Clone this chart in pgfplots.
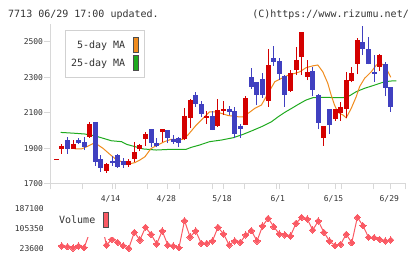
\documentclass[border=0pt]{standalone}
\usepackage{pgfplots}
\pgfplotsset{compat=1.18}
\usepackage{pgfplotstable}
\usepackage{fontspec}
\setmainfont{DejaVu Sans Mono}
\setmonofont{DejaVu Sans Mono}

\definecolor{upRed}{RGB}{212,0,0}
\definecolor{downBlue}{RGB}{64,64,192}
\definecolor{maOrange}{RGB}{240,140,30}
\definecolor{maGreen}{RGB}{30,170,30}
\definecolor{volRed}{RGB}{250,90,100}
\definecolor{axisGray}{RGB}{216,216,216}
\definecolor{txt}{RGB}{51,51,51}

% daily candles: index, open, high, low, close
\pgfplotstableread{
i o h l c
0 1836 1842 1836 1842
1 1897 1923 1869 1913
3 1897 1947 1897 1925
6 1966 2048 1960 2037
9 1775 1820 1763 1812
13 1807 1842 1795 1829
14 1840 1936 1822 1880
15 1897 1925 1885 1919
16 1953 1994 1915 1981
19 1994 2009 1934 2009
23 1951 2125 1945 2082
24 2069 2178 2013 2172
27 2075 2110 2037 2082
29 2028 2178 2022 2116
30 2116 2166 2088 2121
34 2031 2194 2031 2181
38 2168 2458 2134 2369
42 2224 2340 2219 2325
43 2340 2471 2312 2397
44 2416 2556 2312 2556
45 2303 2397 2284 2331
48 1960 2026 1915 2026
50 2065 2123 2056 2121
51 2097 2159 2056 2134
52 2120 2331 2072 2284
53 2280 2356 2271 2322
54 2373 2518 2318 2509
58 2359 2430 2335 2425
}\upcandles

\pgfplotstableread{
i o h l c
2 1947 1962 1869 1897
4 1945 1960 1925 1932
5 1936 1964 1891 1906
7 2048 2048 1803 1825
8 1840 1862 1769 1788
10 1831 1859 1803 1816
11 1863 1867 1792 1797
12 1829 1848 1792 1807
17 2009 2009 1906 1929
18 1932 1957 1906 1915
20 2003 2003 1932 1960
21 1951 1975 1925 1938
22 1957 1962 1906 1929
25 2200 2219 2134 2148
26 2149 2168 2078 2092
28 2084 2110 2003 2003
31 2121 2140 2088 2104
32 2110 2131 1957 1981
33 2026 2037 1960 2009
35 2300 2354 2234 2243
36 2271 2275 2144 2200
37 2290 2322 2185 2200
39 2410 2475 2364 2387
40 2391 2410 2284 2318
41 2307 2312 2134 2200
46 2335 2359 2194 2228
47 2200 2205 2007 2044
49 2121 2121 1981 2031
55 2496 2590 2425 2457
56 2458 2524 2373 2373
57 2331 2425 2275 2316
59 2374 2383 2194 2241
60 2245 2245 2106 2134
}\downcandles

\pgfplotsset{
  candlewick/.style={draw=none, mark=none, forget plot,
    error bars/.cd, y dir=plus, y explicit, error mark=none,
    error bar style={draw=#1, line width=1pt}},
  candlebody/.style={draw=none, mark=none, forget plot,
    error bars/.cd, y dir=both, y explicit, error mark=none,
    error bar style={draw=#1, line width=5pt}},
}

\begin{document}
\begin{tikzpicture}
\path[use as bounding box] (0,0) rectangle (420pt,259pt);

\node[anchor=base west, inner sep=0pt, text=txt, font=\fontsize{10}{10}\selectfont\ttfamily]
  at (8pt,241.7pt) {7713 06/29 17:00 updated.};
\node[anchor=base east, inner sep=0pt, text=txt, font=\fontsize{10}{10}\selectfont\ttfamily]
  at (409pt,241.7pt) {(C)https://www.rizumu.net/};

% price panel
\begin{axis}[
  at={(50.7pt,75pt)}, anchor=south west,
  scale only axis, width=355pt, height=160.1pt,
  xmin=-1, xmax=62.67, ymin=1700, ymax=2600,
  axis x line*=bottom, axis y line*=left,
  axis line style={draw=axisGray, line width=1pt},
  tick style={draw=axisGray, line width=1pt},
  tick align=outside,
  xtick={-1,4.788,10.576,16.364,22.152,27.94,33.728,39.516,45.304,51.092,56.88,62.67},
  xticklabels={,,,,,,,,,,,},
  xtick style={/pgfplots/major tick length=5.3pt},
  ytick={1700,1900,2100,2300,2500},
  yticklabels={1700,1900,2100,2300,2500},
  ytick style={/pgfplots/major tick length=6.7pt},
  yticklabel style={font=\fontsize{8}{8}\selectfont\ttfamily, text=txt, inner sep=0pt, xshift=-3.2pt},
  extra x ticks={10,20,30,40,50,60},
  extra x tick labels={4/14,4/28,5/18,6/1,6/15,6/29},
  extra x tick style={/pgfplots/major tick length=0pt,
    xticklabel style={font=\fontsize{8}{8}\selectfont\ttfamily, text=txt, inner sep=0pt, anchor=base, yshift=-17.2pt, xshift=-1.5pt}},
  legend style={at={(axis description cs:0.0403,0.962)}, anchor=north west,
    draw=black!18, line width=1pt, fill=white,
    font=\fontsize{10}{10}\selectfont\ttfamily, text=txt,
    inner xsep=5.5pt, inner ysep=7pt, row sep=2.8pt, column sep=7.7pt,
    nodes={inner sep=0pt}},
  legend cell align=right, legend plot pos=right,
]
% 25-day moving average
\addplot[maGreen, line width=1pt, forget plot] coordinates {
 (0.8,1990) (3.4,1985) (5.1,1981) (6.9,1971) (8.4,1957) (9.9,1943) (11.7,1938)
 (12.6,1923) (14.1,1910) (15.6,1897) (17.9,1891) (20.6,1895) (23.3,1895) (24.2,1906)
 (25.7,1919) (27.5,1938) (29.6,1947) (31.7,1960) (33.5,1979) (35.0,1998) (36.8,2022)
 (38.6,2050) (39.8,2078) (41.0,2103) (42.2,2125) (43.7,2153) (44.8,2172) (46.0,2185)
 (47.8,2187) (51.4,2185) (52.6,2196) (53.8,2219) (55.3,2238) (57.1,2256) (58.9,2275)
 (60.1,2279) (61.0,2279)};
% 5-day moving average
\addplot[maOrange, line width=1pt, forget plot] coordinates {
 (3.3,1897) (4.5,1897) (5.5,1910) (6.9,1932) (7.5,1919) (8.4,1900) (9.6,1867)
 (10.5,1844) (11.7,1825) (12.9,1812) (14.1,1820) (15.0,1835) (15.9,1853) (17.0,1900)
 (18.2,1919) (19.4,1938) (20.6,1951) (22.7,1951) (23.6,1975) (25.1,2031) (26.6,2078)
 (27.5,2106) (28.7,2106) (29.6,2097) (30.8,2085) (32.6,2078) (33.5,2078) (34.4,2097)
 (35.6,2125) (36.8,2144) (37.7,2194) (39.2,2275) (40.4,2294) (41.6,2312) (42.8,2322)
 (43.7,2331) (44.8,2354) (46.0,2364) (46.9,2369) (47.8,2331) (48.7,2266) (49.3,2200)
 (49.9,2144) (50.5,2103) (51.4,2088) (52.0,2072) (52.9,2125) (53.8,2191) (54.4,2247)
 (55.3,2294) (56.5,2331) (57.4,2369) (58.3,2378) (59.2,2350) (60.0,2300)};

% candles: wicks, then bodies
\addplot[candlewick=upRed] table[x=i, y=l, y error expr={\thisrow{h}-\thisrow{l}}] {\upcandles};
\addplot[candlewick=downBlue] table[x=i, y=l, y error expr={\thisrow{h}-\thisrow{l}}] {\downcandles};
\addplot[candlebody=upRed] table[x=i, y expr={(\thisrow{o}+\thisrow{c})/2}, y error expr={abs(\thisrow{c}-\thisrow{o})/2}] {\upcandles};
\addplot[candlebody=downBlue] table[x=i, y expr={(\thisrow{o}+\thisrow{c})/2}, y error expr={abs(\thisrow{c}-\thisrow{o})/2}] {\downcandles};

\addlegendimage{legend image code/.code={\filldraw[fill=maOrange, draw=black!70, line width=0.8pt] (0pt,-7.2pt) rectangle (5.6pt,7.2pt);}}
\addlegendentry{5-day MA}
\addlegendimage{legend image code/.code={\filldraw[fill=maGreen, draw=black!70, line width=0.8pt] (0pt,-7.2pt) rectangle (5.6pt,7.2pt);}}
\addlegendentry{25-day MA}
\end{axis}

% volume panel
\begin{axis}[
  at={(50.7pt,10.7pt)}, anchor=south west,
  scale only axis, width=355pt, height=39.3pt,
  xmin=-1, xmax=62.67, ymin=23600, ymax=187100,
  clip=false,
  axis line style={draw=none},
  major tick length=0pt,
  xtick=\empty,
  scaled y ticks=false,
  ytick={23600,105350,187100},
  yticklabels={23600,105350,187100},
  yticklabel style={font=\fontsize{8}{8}\selectfont\ttfamily, text=txt, inner sep=0pt, xshift=-6.7pt},
  legend style={at={(axis description cs:0.012,0.29)}, anchor=south west,
    draw=none, fill=white,
    font=\fontsize{10}{10}\selectfont\ttfamily, text=txt,
    inner xsep=4pt, inner ysep=8.6pt, column sep=7.4pt,
    nodes={inner sep=0pt}},
  legend cell align=right, legend plot pos=right,
]
\addplot[volRed, line width=1pt, forget plot, mark=square*, mark size=2.2pt,
  mark options={rotate=45, solid, fill=volRed, draw=volRed, line width=0pt}] coordinates {
 (1,33200) (2,30300) (3,25000) (4,33200) (5,26100) (6,90000) (7,187100) (8,140000)
 (9,37300) (10,61000) (11,48600) (12,34400) (13,23600) (14,90200) (15,58100) (16,111000)
 (17,81800) (18,41500) (19,95600) (20,37300) (21,33200) (22,26100) (23,138400) (24,70600)
 (25,95600) (26,44400) (27,44400) (28,54000) (29,111000) (30,83100) (31,37300) (32,54000)
 (33,48600) (34,79000) (35,96900) (36,54000) (37,116400) (38,148400) (39,113500) (40,83100)
 (41,79000) (42,74800) (43,127600) (44,152600) (45,145500) (46,99700) (47,137200) (48,90200)
 (49,54000) (50,34400) (51,40200) (52,81800) (53,46900) (54,152600) (55,117600) (56,69400)
 (57,67700) (58,61000) (59,54000) (60,58100)};
\addlegendimage{legend image code/.code={\filldraw[fill=volRed, draw=black!70, line width=0.8pt] (0pt,-7.5pt) rectangle (5.6pt,7.5pt);}}
\addlegendentry{Volume}
\end{axis}
\end{tikzpicture}
\end{document}
